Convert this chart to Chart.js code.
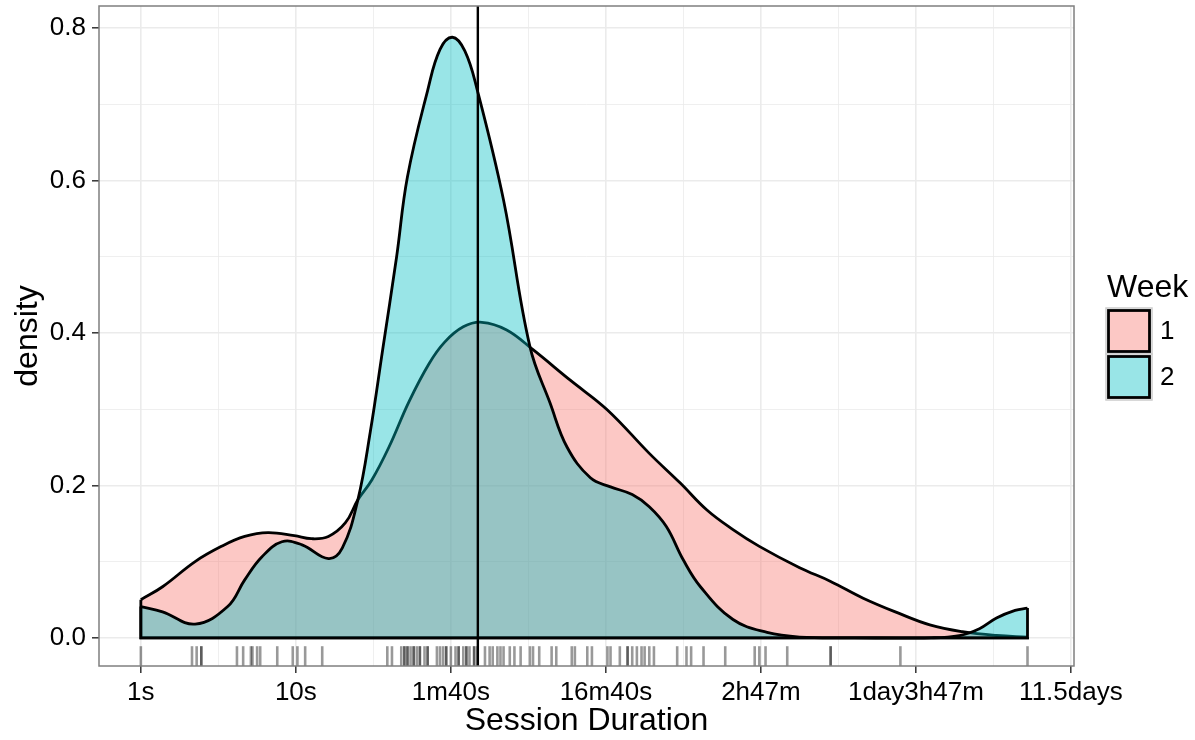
<!DOCTYPE html>
<html>
<head>
<meta charset="utf-8">
<title>Session Duration by Week</title>
<script src="https://cdn.jsdelivr.net/npm/chart.js@4.4.1/dist/chart.umd.min.js"></script>
<style>
  html, body { margin: 0; padding: 0; background: #fff; }
  #wrap { width: 1195px; height: 740px; }
</style>
</head>
<body>
<div id="wrap"><canvas id="densityChart" width="1195" height="740"></canvas></div>
<script>
// durations are on a log10(seconds) axis
const week1Log = [0.00, 0.14, 0.35, 0.52, 0.67, 0.82, 0.99, 1.10, 1.21, 1.32, 1.40, 1.49, 1.60, 1.73, 1.86, 1.96, 2.08, 2.20, 2.36, 2.53, 2.77, 3.01, 3.28, 3.48, 3.65, 3.82, 3.99, 4.25, 4.45, 4.66, 4.88, 5.09, 5.30, 5.52, 5.72];
const week1Density = [0.050, 0.067, 0.100, 0.120, 0.133, 0.138, 0.134, 0.130, 0.133, 0.151, 0.181, 0.207, 0.250, 0.310, 0.360, 0.388, 0.408, 0.414, 0.404, 0.378, 0.338, 0.299, 0.242, 0.203, 0.168, 0.142, 0.120, 0.092, 0.074, 0.052, 0.033, 0.017, 0.008, 0.003, 0.001];

const week2Log = [0.00, 0.14, 0.35, 0.56, 0.67, 0.78, 0.91, 1.04, 1.21, 1.30, 1.40, 1.48, 1.56, 1.65, 1.72, 1.85, 1.93, 2.01, 2.09, 2.17, 2.34, 2.51, 2.64, 2.75, 2.90, 3.03, 3.17, 3.28, 3.39, 3.50, 3.61, 3.82, 4.04, 4.25, 4.60, 5.10, 5.28, 5.41, 5.52, 5.64, 5.72];
const week2Density = [0.041, 0.034, 0.018, 0.041, 0.076, 0.106, 0.126, 0.122, 0.104, 0.118, 0.181, 0.270, 0.378, 0.500, 0.605, 0.718, 0.772, 0.788, 0.770, 0.719, 0.574, 0.382, 0.308, 0.250, 0.210, 0.198, 0.188, 0.172, 0.146, 0.102, 0.067, 0.024, 0.007, 0.001, 0.000, 0.000, 0.003, 0.012, 0.026, 0.036, 0.039];

// individual sessions, drawn as a rug under the curves
const rugLog = [0.00, 0.33, 0.36, 0.39, 0.39, 0.62, 0.66, 0.71, 0.72, 0.75, 0.77, 0.88, 0.98, 1.01, 1.06, 1.17,
  1.59, 1.62, 1.68, 1.70, 1.70, 1.72, 1.72, 1.74, 1.76, 1.76, 1.78, 1.80, 1.80, 1.83, 1.85, 1.85, 1.91, 1.93,
  1.95, 1.97, 1.97, 2.00, 2.03, 2.05, 2.05, 2.08, 2.10, 2.10, 2.12, 2.15, 2.15, 2.17, 2.22, 2.25, 2.27, 2.30,
  2.32, 2.34, 2.38, 2.41, 2.45, 2.51, 2.53, 2.57, 2.65, 2.68, 2.78, 2.80, 2.88, 2.91, 3.01, 3.03, 3.09, 3.14,
  3.14, 3.17, 3.20, 3.23, 3.25, 3.28, 3.31, 3.46, 3.52, 3.55, 3.63, 3.77, 3.96, 3.99, 4.03, 4.17, 4.45, 4.45,
  4.90, 5.72];
const medianLog = 2.174;

const weekLabels = ["1", "2"];
const xTickValues = [0, 1, 2, 3, 4, 5, 6];
const xTickLabels = ["1s", "10s", "1m40s", "16m40s", "2h47m", "1day3h47m", "11.5days"];
const yTickValues = [0, 0.2, 0.4, 0.6, 0.8];
const yTickLabels = ["0.0", "0.2", "0.4", "0.6", "0.8"];

const FONT = "'Liberation Sans', Arial, Helvetica, sans-serif";
const fills = ["rgba(248, 118, 109, 0.4)", "rgba(0, 191, 196, 0.4)"];

const toPoints = (xs, ys) => xs.map((x, i) => ({ x, y: ys[i] }));

// right edge down, along the baseline, left edge up
const edgePoints = (xs, ys) => [
  { x: xs[xs.length - 1], y: ys[ys.length - 1] },
  { x: xs[xs.length - 1], y: 0 },
  { x: xs[0], y: 0 },
  { x: xs[0], y: ys[0] },
];

// major ticks plus a minor one halfway between each pair
const withMinor = (values) => {
  const out = [];
  values.forEach((v, i) => {
    out.push({ value: v, isMajor: true });
    if (i < values.length - 1) out.push({ value: (v + values[i + 1]) / 2, isMajor: false });
  });
  return out;
};

const curve = (label, xs, ys, fill, order) => ({
  label,
  data: toPoints(xs, ys),
  order,
  fill: "origin",
  backgroundColor: fill,
  borderColor: "#000",
  borderWidth: 2.8,
  tension: 0.4,
  pointRadius: 0,
});

const edge = (xs, ys, order) => ({
  label: "",
  data: edgePoints(xs, ys),
  order,
  fill: false,
  borderColor: "#000",
  borderWidth: 2.8,
  tension: 0,
  pointRadius: 0,
});

const gridStyle = {
  color: "#EBEBEB",
  lineWidth: (c) => (c.tick && c.tick.isMajor ? 1.6 : 0.8),
  tickColor: (c) => (c.tick && c.tick.isMajor ? "#333333" : "rgba(0,0,0,0)"),
  tickWidth: 1.5,
  tickLength: 7,
  drawOnChartArea: true,
  drawTicks: true,
};

// rug, median line and panel border
const panelDecor = {
  id: "panelDecor",
  afterDatasetsDraw(chart) {
    const { ctx, chartArea: a, scales: { x } } = chart;
    ctx.save();
    ctx.strokeStyle = "rgba(0, 0, 0, 0.4)";
    ctx.lineWidth = 2.6;
    const rugLen = 0.03 * (a.bottom - a.top);
    rugLog.forEach((v) => {
      const px = x.getPixelForValue(v);
      ctx.beginPath();
      ctx.moveTo(px, a.bottom);
      ctx.lineTo(px, a.bottom - rugLen);
      ctx.stroke();
    });

    const mx = x.getPixelForValue(medianLog);
    ctx.strokeStyle = "#000";
    ctx.lineWidth = 2.4;
    ctx.beginPath();
    ctx.moveTo(mx, a.top);
    ctx.lineTo(mx, a.bottom);
    ctx.stroke();

    ctx.strokeStyle = "#7F7F7F";
    ctx.lineWidth = 1.5;
    ctx.strokeRect(a.left, a.top, a.right - a.left, a.bottom - a.top);
    ctx.restore();
  },
};

// "Week" legend on the right
const weekLegend = {
  id: "weekLegend",
  afterDraw(chart) {
    const { ctx, chartArea: a } = chart;
    const left = a.right + 32;
    const keySize = 46;
    const top = 308;
    ctx.save();
    ctx.fillStyle = "#000";
    ctx.font = "32px " + FONT;
    ctx.textBaseline = "alphabetic";
    ctx.textAlign = "left";
    ctx.fillText("Week", left + 1, 297);

    weekLabels.forEach((lab, i) => {
      const y = top + i * keySize;
      ctx.fillStyle = "#fff";
      ctx.fillRect(left, y, keySize, keySize);
      ctx.strokeStyle = "#CCCCCC";
      ctx.lineWidth = 1.5;
      ctx.strokeRect(left, y, keySize, keySize);
      ctx.fillStyle = fills[i];
      ctx.fillRect(left + 2.5, y + 2.5, keySize - 5, keySize - 5);
      ctx.strokeStyle = "#000";
      ctx.lineWidth = 2.8;
      ctx.strokeRect(left + 2.5, y + 2.5, keySize - 5, keySize - 5);

      ctx.fillStyle = "#000";
      ctx.font = "26px " + FONT;
      ctx.textBaseline = "middle";
      ctx.fillText(lab, left + 54, y + keySize / 2 + 1);
    });
    ctx.restore();
  },
};

const ctx = document.getElementById("densityChart").getContext("2d");
new Chart(ctx, {
  type: "line",
  data: {
    datasets: [
      curve(weekLabels[0], week1Log, week1Density, fills[0], 4),
      edge(week1Log, week1Density, 3),
      curve(weekLabels[1], week2Log, week2Density, fills[1], 2),
      edge(week2Log, week2Density, 1),
    ],
  },
  options: {
    responsive: false,
    animation: false,
    devicePixelRatio: 1,
    events: [],
    layout: { padding: { left: 0, top: 6, right: 121, bottom: 0 } },
    plugins: {
      legend: { display: false },
      tooltip: { enabled: false },
    },
    scales: {
      x: {
        type: "linear",
        min: -0.27,
        max: 6.02,
        afterBuildTicks: (s) => { s.ticks = withMinor(xTickValues); },
        afterFit: (s) => {
          s.height = 74;
          s.paddingLeft = 0;
          s.paddingRight = 0;
        },
        grid: gridStyle,
        border: { display: false },
        ticks: {
          autoSkip: false,
          maxRotation: 0,
          minRotation: 0,
          padding: 4,
          color: "#000",
          font: { family: FONT, size: 26 },
          callback: (v) => {
            const i = xTickValues.indexOf(v);
            return i >= 0 ? xTickLabels[i] : "";
          },
        },
        title: {
          display: true,
          text: "Session Duration",
          color: "#000",
          font: { family: FONT, size: 32 },
          padding: { top: 0, bottom: 0 },
        },
      },
      y: {
        min: -0.037,
        max: 0.829,
        afterBuildTicks: (s) => { s.ticks = withMinor(yTickValues); },
        afterFit: (s) => {
          s.width = 99;
          s.paddingTop = 0;
          s.paddingBottom = 0;
        },
        grid: gridStyle,
        border: { display: false },
        ticks: {
          autoSkip: false,
          padding: 6,
          color: "#000",
          font: { family: FONT, size: 26 },
          callback: (v) => {
            const i = yTickValues.findIndex((t) => Math.abs(t - v) < 1e-9);
            return i >= 0 ? yTickLabels[i] : "";
          },
        },
        title: {
          display: true,
          text: "density",
          color: "#000",
          font: { family: FONT, size: 32 },
          padding: { top: 9, bottom: 0 },
        },
      },
    },
  },
  plugins: [panelDecor, weekLegend],
});
</script>
</body>
</html>
